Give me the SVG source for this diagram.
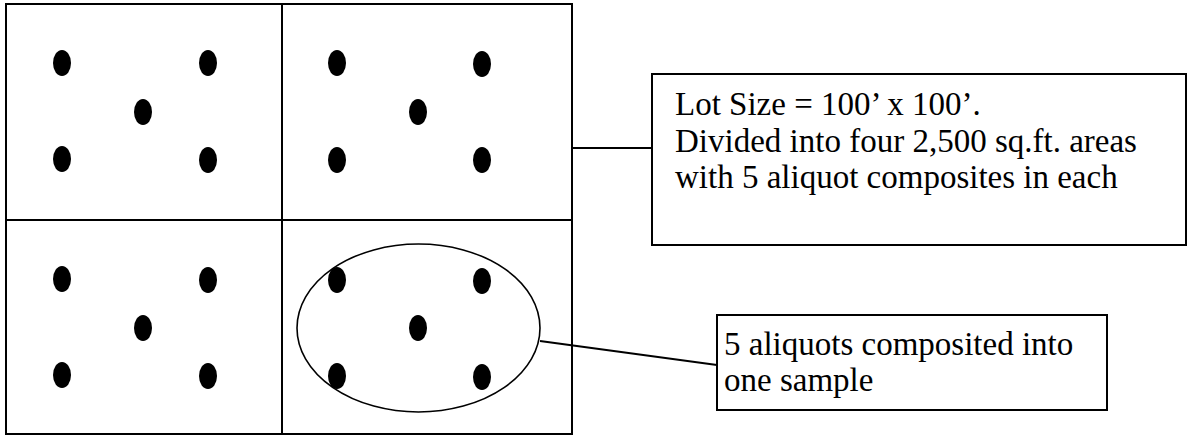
<svg xmlns="http://www.w3.org/2000/svg" width="1187" height="436" viewBox="0 0 1187 436">
<style>
.ln{stroke:#000;stroke-width:2;fill:none}
.box{stroke:#000;stroke-width:2;fill:#fff}
.dot{fill:#000}
.t{font-family:"Liberation Serif","Times New Roman",serif;font-size:33px;fill:#000}
</style>
<defs><ellipse id="d" rx="9" ry="13" class="dot"/></defs>
<rect width="1187" height="436" fill="#fff"/>
<g id="lot">
<rect x="6" y="4" width="566" height="430" class="ln"/>
<line x1="282" y1="4" x2="282" y2="434" class="ln"/>
<line x1="6" y1="220" x2="572" y2="220" class="ln"/>
</g>
<g id="area-tl">
<use href="#d" x="62" y="63"/><use href="#d" x="208" y="63"/><use href="#d" x="143" y="112"/><use href="#d" x="62" y="159"/><use href="#d" x="208" y="160"/>
</g>
<g id="area-tr">
<use href="#d" x="337" y="63"/><use href="#d" x="482" y="64"/><use href="#d" x="418" y="112"/><use href="#d" x="337" y="160"/><use href="#d" x="482" y="160"/>
</g>
<g id="area-bl">
<use href="#d" x="62" y="279"/><use href="#d" x="208" y="280"/><use href="#d" x="143" y="328"/><use href="#d" x="62" y="375"/><use href="#d" x="208" y="376"/>
</g>
<g id="area-br">
<use href="#d" x="337" y="280"/><use href="#d" x="482" y="281"/><use href="#d" x="418" y="328"/><use href="#d" x="337" y="376"/><use href="#d" x="482" y="377"/>
<ellipse cx="418.5" cy="328" rx="121.5" ry="84" fill="none" stroke="#000" stroke-width="1.6"/>
</g>
<g id="connectors">
<line x1="572" y1="148" x2="652" y2="148" class="ln" stroke-width="1.6"/>
<line x1="540" y1="341" x2="717" y2="365" class="ln" stroke-width="1.6"/>
</g>
<g id="note-lot">
<rect x="652" y="74" width="534" height="171" class="box"/>
<text class="t" x="675" y="115">Lot Size = 100’ x 100’.</text>
<text class="t" x="675" y="152">Divided into four 2,500 sq.ft. areas</text>
<text class="t" x="675" y="188">with 5 aliquot composites in each</text>
</g>
<g id="note-sample">
<rect x="717" y="315" width="390" height="95" class="box"/>
<text class="t" x="724" y="355">5 aliquots composited into</text>
<text class="t" x="724" y="391">one sample</text>
</g>
</svg>
